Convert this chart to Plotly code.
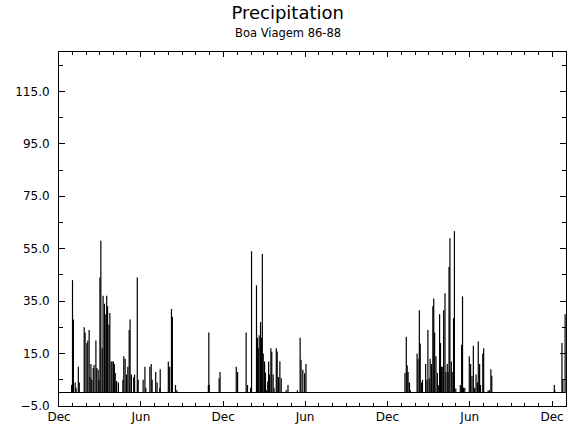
import plotly.graph_objects as go
import pandas as pd

# Daily precipitation at Boa Viagem, Dec 1985 - Dec 1988
start_date = "1985-12-01"

# day offsets (days since start_date) of rainy days, and precipitation (mm)
days_season1 = [28, 30, 32, 36, 38, 43, 45, 56, 58, 62, 64, 67, 69, 71, 73, 76, 78, 82, 84, 87,
                89, 91, 93, 96, 98, 101, 104, 106, 108, 111, 113, 116, 118, 121, 123, 125, 128,
                132, 142, 144, 147, 150, 153, 156, 158, 161, 166, 168, 174, 176, 187, 191, 193,
                202, 205, 207, 215, 218, 224, 225, 243, 246, 250, 252, 259, 262]
rain_season1 = [3, 43, 28, 4, 2, 10, 4, 25, 23, 19, 20, 24, 6, 11, 5, 9.5, 10.6, 20, 9.5, 8.8,
                5, 44, 58, 17, 37, 34, 30, 37, 33, 26, 30.5, 12, 12, 12, 11, 7.6, 4.5,
                4, 5, 14, 13, 7, 10, 24, 28, 7, 6, 7, 44, 5, 5, 10, 2,
                10, 11, 5, 8, 4, 2, 9, 12, 10, 32, 29, 3, 1]

days_season2 = [332, 333, 334, 356, 358, 394, 397, 416, 419, 426, 428, 439, 441, 443, 445, 448,
                450, 452, 454, 457, 459, 461, 464, 466, 468, 471, 473, 476, 478, 483, 485, 488,
                491, 494, 505, 509, 530, 536, 538, 542, 546, 549]
rain_season2 = [3, 23, 3, 5.6, 8, 10, 8, 23, 3, 2, 54, 41, 21, 17, 22, 27,
                21, 53, 15, 12, 7.7, 1, 4.3, 12, 7, 17, 15.7, 7, 2, 17, 15.8, 6,
                12, 5.6, 1, 3, 1, 21, 12.6, 8.8, 7.5, 11]

days_season3 = [769, 772, 774, 776, 779, 781, 796, 798, 801, 803, 806, 808, 815, 818, 820, 823,
                825, 828, 831, 833, 835, 838, 841, 843, 846, 848, 850, 853, 855, 858, 860, 863,
                865, 867, 869, 872, 874, 877, 879, 882, 892, 895, 897, 899, 902, 912, 915, 918,
                921, 924, 927, 930, 932, 935, 937, 942, 944, 954, 957, 960, 962, 1101, 1102,
                1118, 1120, 1125]
rain_season3 = [7.6, 21.4, 10.4, 8, 4, 1, 15, 13, 31.5, 18.8, 4, 5, 11, 5, 24, 5.5,
                13, 11, 33, 36, 23, 14, 7.6, 3, 30, 19, 10, 10, 31.5, 38, 8, 11,
                8, 48, 59, 12, 8, 28.5, 61.7, 1.7, 3, 18.4, 36.8, 2, 2, 14, 11, 6.5,
                18, 2, 7, 4, 19.6, 11, 3, 15, 17, 1, 1, 9, 6.5, 3, 1,
                19, 5, 30]

x_range = ["1985-12-01", "1989-01-01"]
y_range = [-5, 130]

all_days = days_season1 + days_season2 + days_season3
all_rain = rain_season1 + rain_season2 + rain_season3
dates = pd.Timestamp(start_date) + pd.to_timedelta(all_days, unit="D")

xs, ys = [], []
for d, v in zip(dates, all_rain):
    s = d.strftime("%Y-%m-%d")
    xs += [s, s, None]
    ys += [0, v, None]

FONT = "DejaVu Sans"

fig = go.Figure()
fig.add_trace(go.Scatter(x=xs, y=ys, mode="lines",
                         line=dict(color="black", width=1.2), hoverinfo="skip",
                         showlegend=False))

fig.update_layout(
    width=568, height=431,
    margin=dict(l=59, r=2, t=52, b=25, autoexpand=False),
    paper_bgcolor="white", plot_bgcolor="white",
    font=dict(family=FONT, color="black", size=12),
    title=dict(text="Precipitation", x=0.5065, xanchor="center",
               y=1 - 12.7 / 431, yanchor="middle", yref="container",
               font=dict(family=FONT, size=18, color="black")),
    annotations=[dict(text="Boa Viagem 86-88", xref="paper", yref="paper",
                      x=(287.7 - 59) / 507, y=(406 - 33.3) / 354,
                      xanchor="center", yanchor="middle", showarrow=False,
                      font=dict(family=FONT, size=11.5, color="black"))],
)

fig.update_xaxes(
    type="date", range=x_range, automargin=False,
    tick0="1985-12-01", dtick="M6", tickformat="%b",
    ticks="inside", ticklen=5, tickcolor="black", tickwidth=1,
    minor=dict(dtick="M1", tick0="1985-12-01", ticks="inside", ticklen=3,
               tickcolor="black", tickwidth=1),
    showline=True, linecolor="black", linewidth=1, mirror="ticks",
    showgrid=False, zeroline=False,
    tickfont=dict(family=FONT, size=12, color="black"),
)

fig.update_yaxes(
    range=y_range, automargin=False,
    tick0=-5, dtick=20, tickformat=".1f",
    ticks="inside", ticklen=6, tickcolor="black", tickwidth=1,
    minor=dict(dtick=10, tick0=-5, ticks="inside", ticklen=4,
               tickcolor="black", tickwidth=1),
    showline=True, linecolor="black", linewidth=1, mirror="ticks",
    showgrid=False,
    zeroline=True, zerolinecolor="black", zerolinewidth=1,
    tickfont=dict(family=FONT, size=12, color="black"),
    ticklabelstandoff=6,
)

# remove the default 8px page margin so the figure sits at the window's top-left
fig.write_html("out.html", config={"displayModeBar": False},
               post_script="document.body.style.margin='0px';")
